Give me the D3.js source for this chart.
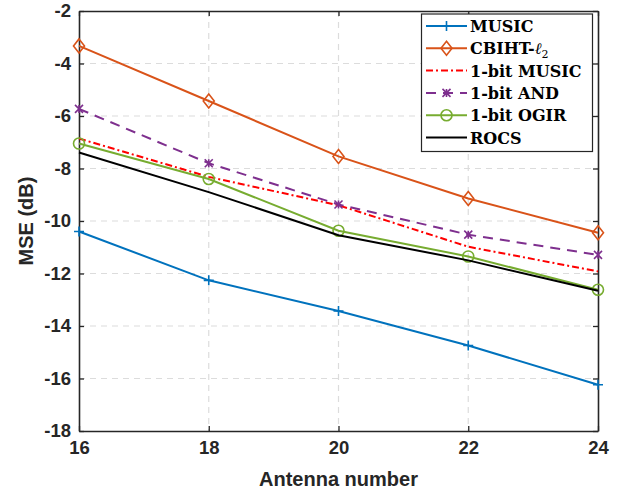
<!DOCTYPE html>
<html>
<head>
<meta charset="utf-8">
<script src="https://cdn.jsdelivr.net/npm/d3@7"></script>
<style>
  body { margin: 0; background: #fff; }
  svg { display: block; }
</style>
</head>
<body>
<svg id="chart" width="626" height="494"></svg>
<script>
// antenna counts on the x axis
var antennas = [16, 18, 20, 22, 24];

// MSE values (dB), one array per method
var music      = [-10.40, -12.26, -13.43, -14.74, -16.24];
var cbiht      = [-3.33, -5.43, -7.54, -9.14, -10.45];
var music1bit  = [-6.86, -8.32, -9.40, -10.98, -11.92];
var and1bit    = [-5.73, -7.80, -9.37, -10.52, -11.29];
var ogir1bit   = [-7.05, -8.40, -10.37, -11.35, -12.62];
var rocs       = [-7.39, -8.90, -10.54, -11.50, -12.66];

var xTicks = [16, 18, 20, 22, 24];
var yTicks = [-18, -16, -14, -12, -10, -8, -6, -4, -2];

var series = [
	{ name: 'MUSIC', values: music, color: '#0072BD', dash: null, marker: 'plus' },
	{ name: 'CBIHT', values: cbiht, color: '#D95319', dash: null, marker: 'diamond' },
	{ name: '1-bit MUSIC', values: music1bit, color: '#FF0000', dash: '7,3,2,3', marker: null },
	{ name: '1-bit AND', values: and1bit, color: '#7E2F8E', dash: '10,7', marker: 'star' },
	{ name: '1-bit OGIR', values: ogir1bit, color: '#77AC30', dash: null, marker: 'circle' },
	{ name: 'ROCS', values: rocs, color: '#000000', dash: null, marker: null }
];

var margin = { left: 79, right: 28, top: 11, bottom: 63 };
var width = 626, height = 494;
var svg = d3.select('#chart');

var x = d3.scaleLinear().domain([16, 24]).range([margin.left, width - margin.right]);
var y = d3.scaleLinear().domain([-18, -2]).range([height - margin.bottom, margin.top]);

var axisColor = '#262626';
var tickFont = 'bold 18.5px "Liberation Sans", Arial, sans-serif';

// Grid lines.
var grid = svg.append('g');
grid.selectAll('.vg').data(xTicks.slice(1, -1)).enter().append('line')
	.attr('x1', d => x(d)).attr('x2', d => x(d))
	.attr('y1', y(-2)).attr('y2', y(-18))
	.attr('stroke', '#dcdcdc').attr('stroke-width', 1.2).attr('stroke-dasharray', '6,5');
grid.selectAll('.hg').data(yTicks.slice(1, -1)).enter().append('line')
	.attr('y1', d => y(d)).attr('y2', d => y(d))
	.attr('x1', x(16)).attr('x2', x(24))
	.attr('stroke', '#dcdcdc').attr('stroke-width', 1.2).attr('stroke-dasharray', '6,5');

// Axes (box with inward ticks on all four sides).
var plainFmt = d => String(d);
var xAxis = svg.append('g').attr('transform', 'translate(0,' + y(-18) + ')')
	.call(d3.axisBottom(x).tickValues(xTicks).tickSizeInner(-5).tickSizeOuter(0).tickPadding(10).tickFormat(plainFmt));
var xTop = svg.append('g').attr('transform', 'translate(0,' + y(-2) + ')')
	.call(d3.axisTop(x).tickValues(xTicks).tickSizeInner(-5).tickSizeOuter(0).tickFormat(''));
var yAxis = svg.append('g').attr('transform', 'translate(' + x(16) + ',0)')
	.call(d3.axisLeft(y).tickValues(yTicks).tickSizeInner(-5).tickSizeOuter(0).tickPadding(8).tickFormat(plainFmt));
var yRight = svg.append('g').attr('transform', 'translate(' + x(24) + ',0)')
	.call(d3.axisRight(y).tickValues(yTicks).tickSizeInner(-5).tickSizeOuter(0).tickFormat(''));

[xAxis, xTop, yAxis, yRight].forEach(function(g) {
	g.select('.domain').attr('stroke', axisColor).attr('stroke-width', 1.6);
	g.selectAll('.tick line').attr('stroke', axisColor).attr('stroke-width', 1.3);
	g.selectAll('.tick text').attr('fill', axisColor).style('font', tickFont);
});

// Axis titles.
svg.append('text')
	.attr('x', (x(16) + x(24)) / 2).attr('y', 486)
	.attr('text-anchor', 'middle')
	.style('font', 'bold 20px "Liberation Sans", Arial, sans-serif')
	.attr('fill', axisColor)
	.text('Antenna number');
svg.append('text')
	.attr('transform', 'translate(33,' + ((y(-2) + y(-18)) / 2) + ') rotate(-90)')
	.attr('text-anchor', 'middle')
	.style('font', 'bold 20px "Liberation Sans", Arial, sans-serif')
	.attr('fill', axisColor)
	.text('MSE (dB)');

function drawMarker(g, type, color, cx, cy) {
	if (type === 'plus') {
		g.append('path').attr('d', 'M' + (cx - 5) + ',' + cy + 'h10M' + cx + ',' + (cy - 5) + 'v10')
			.attr('stroke', color).attr('stroke-width', 1.6).attr('fill', 'none');
	} else if (type === 'diamond') {
		g.append('path').attr('d', 'M' + cx + ',' + (cy - 7) + 'L' + (cx + 5.5) + ',' + cy + 'L' + cx + ',' + (cy + 7) + 'L' + (cx - 5.5) + ',' + cy + 'Z')
			.attr('stroke', color).attr('stroke-width', 1.6).attr('fill', 'none');
	} else if (type === 'circle') {
		g.append('circle').attr('cx', cx).attr('cy', cy).attr('r', 5.5)
			.attr('stroke', color).attr('stroke-width', 1.6).attr('fill', 'none');
	} else if (type === 'star') {
		var r = 4;
		g.append('path').attr('d',
			'M' + (cx - r) + ',' + (cy - r) + 'L' + (cx + r) + ',' + (cy + r) +
			'M' + (cx - r) + ',' + (cy + r) + 'L' + (cx + r) + ',' + (cy - r) +
			'M' + cx + ',' + (cy - r) + 'v' + (2 * r))
			.attr('stroke', color).attr('stroke-width', 1.6).attr('fill', 'none');
	}
}

// Data lines and markers.
var line = d3.line().x((d, i) => x(antennas[i])).y(d => y(d));
var plot = svg.append('g');
series.forEach(function(s) {
	plot.append('path')
		.datum(s.values)
		.attr('d', line)
		.attr('fill', 'none')
		.attr('stroke', s.color)
		.attr('stroke-width', 2)
		.attr('stroke-dasharray', s.dash);
	if (s.marker) {
		s.values.forEach(function(v, i) {
			drawMarker(plot, s.marker, s.color, x(antennas[i]), y(v));
		});
	}
});

// Legend.
var legend = svg.append('g');
legend.append('rect')
	.attr('x', 421.5).attr('y', 14).attr('width', 171).attr('height', 137.5)
	.attr('fill', '#fff').attr('stroke', '#262626').attr('stroke-width', 1.2);
var legendFont = 'bold 16px "DejaVu Serif", "Liberation Serif", serif';
series.forEach(function(s, i) {
	var ly = 26 + i * 22.3;
	legend.append('line')
		.attr('x1', 426).attr('x2', 467).attr('y1', ly).attr('y2', ly)
		.attr('stroke', s.color).attr('stroke-width', 2)
		.attr('stroke-dasharray', s.dash);
	if (s.marker) drawMarker(legend, s.marker, s.color, 446.5, ly);
	var t = legend.append('text')
		.attr('x', 470).attr('y', ly + 6)
		.style('font', legendFont)
		.attr('fill', '#000');
	if (s.name === 'CBIHT') {
		t.append('tspan').text('CBIHT-');
		t.append('tspan').style('font-style', 'italic').style('font-weight', 'normal').text('ℓ');
		t.append('tspan').attr('dy', 4).style('font-size', '11px').style('font-weight', 'normal').text('2');
	} else {
		t.text(s.name);
	}
});
</script>
</body>
</html>
